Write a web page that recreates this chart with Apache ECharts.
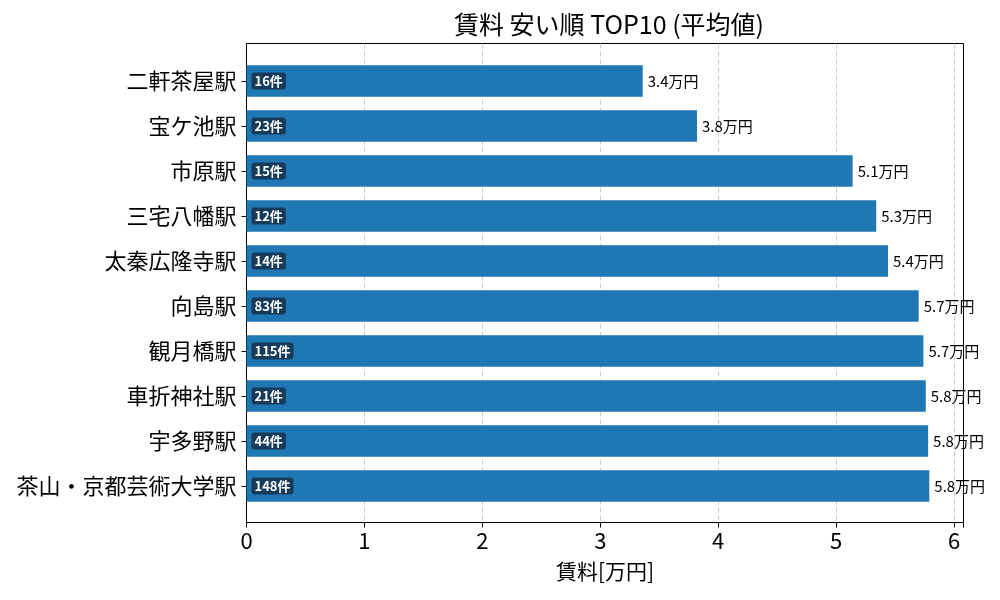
<!DOCTYPE html>
<html>
<head>
<meta charset="utf-8">
<script src="https://cdn.jsdelivr.net/npm/echarts@6/dist/echarts.min.js"></script>
<style>
  html, body { margin: 0; padding: 0; background: #fff; }
  #main { width: 1000px; height: 600px; }
</style>
</head>
<body>
<div id="main"></div>
<script>
// data
var stations = ['二軒茶屋駅', '宝ケ池駅', '市原駅', '三宅八幡駅', '太秦広隆寺駅', '向島駅', '観月橋駅', '車折神社駅', '宇多野駅', '茶山・京都芸術大学駅'];
var rents = [3.36, 3.82, 5.14, 5.34, 5.44, 5.70, 5.74, 5.76, 5.78, 5.79];
var counts = [16, 23, 15, 12, 14, 83, 115, 21, 44, 148];
var xTicks = [0, 1, 2, 3, 4, 5, 6];

var font = '"Noto Sans CJK JP", "Noto Sans", sans-serif';
var chart = echarts.init(document.getElementById('main'), null, { renderer: 'canvas' });

var barData = rents.map(function (v, i) { return { value: v, count: counts[i] }; });
var endData = rents.map(function (v, i) { return [v, stations[i]]; });

chart.setOption({
    animation: false,
    textStyle: { fontFamily: font },
    title: {
        text: '賃料 安い順 TOP10 (平均値)',
        left: 604,
        textAlign: 'center',
        top: 7,
        textStyle: { fontFamily: font, fontSize: 25, fontWeight: 'normal', color: '#000' }
    },
    grid: [
        // frame + x axis
        { left: 246.5, right: 36.5, top: 43.5, bottom: 77.5, show: true, borderColor: '#000', borderWidth: 1, backgroundColor: 'transparent' },
        // bars, bands of 45px
        { left: 246.5, right: 36.5, top: 58.5, bottom: 91.5 }
    ],
    xAxis: [
        {
            gridIndex: 0, type: 'value', min: 0, max: 6.08, interval: 1,
            name: '賃料[万円]', nameLocation: 'middle', nameGap: 38,
            nameTextStyle: { fontFamily: font, fontSize: 21, color: '#000' },
            axisLine: { show: true, lineStyle: { color: '#000' } },
            axisTick: { show: true, length: 5, lineStyle: { color: '#000' } },
            axisLabel: {
                fontFamily: font, fontSize: 22, color: '#000', margin: 7,
                formatter: function (v) { return xTicks.indexOf(v) >= 0 ? String(v) : ''; }
            },
            splitLine: { show: true, showMinLine: false, showMaxLine: false, lineStyle: { color: '#cccccc', type: [5, 3], width: 1 } }
        },
        {
            gridIndex: 1, type: 'value', min: 0, max: 6.08,
            axisLine: { show: false }, axisTick: { show: false }, axisLabel: { show: false }, splitLine: { show: false }
        }
    ],
    yAxis: [
        {
            gridIndex: 0, type: 'value', min: 0, max: 1,
            axisLine: { show: false }, axisTick: { show: false }, axisLabel: { show: false }, splitLine: { show: false }
        },
        {
            gridIndex: 1, type: 'category', data: stations, inverse: true,
            axisLine: { show: false },
            axisTick: { show: true, alignWithLabel: true, length: 5, lineStyle: { color: '#000' } },
            axisLabel: { fontFamily: font, fontSize: 22, color: '#000', margin: 10 },
            splitLine: { show: false }
        }
    ],
    series: [
        {
            type: 'bar',
            xAxisIndex: 1, yAxisIndex: 1,
            data: barData,
            barWidth: '70%',
            itemStyle: { color: '#1f77b4' },
            label: {
                show: true,
                position: 'insideLeft',
                distance: 5,
                formatter: function (p) { return p.data.count + '件'; },
                fontFamily: font, fontSize: 13, fontWeight: 'bold', color: '#fff',
                backgroundColor: '#153a5a',
                borderRadius: 3,
                padding: [2, 3, 2, 3]
            }
        },
        {
            type: 'scatter',
            xAxisIndex: 1, yAxisIndex: 1,
            data: endData,
            symbolSize: 0,
            silent: true,
            itemStyle: { opacity: 1 },
            label: {
                show: true,
                position: 'right',
                distance: 5,
                formatter: function (p) { return p.value[0].toFixed(1) + '万円'; },
                fontFamily: font, fontSize: 15, color: '#000'
            }
        }
    ]
});
</script>
</body>
</html>
